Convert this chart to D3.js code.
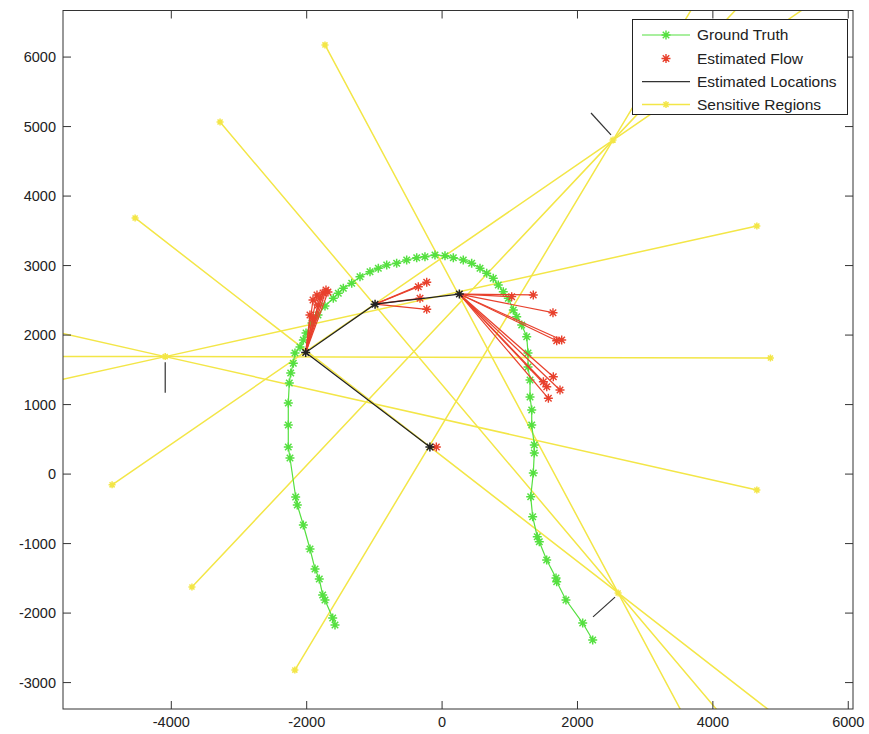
<!DOCTYPE html>
<html>
<head>
<meta charset="utf-8">
<script src="https://cdn.jsdelivr.net/npm/d3@7"></script>
<style>
  body { margin: 0; background: #fff; }
  svg { display: block; font-family: "Liberation Sans", Arial, Helvetica, sans-serif; }
</style>
</head>
<body>
<div id="chart"></div>
<script>
// axis ticks
var xTicks = [-4000, -2000, 0, 2000, 4000, 6000];
var yTicks = [-3000, -2000, -1000, 0, 1000, 2000, 3000, 4000, 5000, 6000];

// ground truth path (x, y)
var groundTruth = [
  [-1582,-2171],[-1616,-2071],[-1730,-1812],[-1764,-1740],[-1814,-1510],[-1877,-1366],
  [-1951,-1078],[-2050,-733],[-2139,-445],[-2163,-330],[-2247,231],[-2272,390],
  [-2272,706],[-2272,1023],[-2257,1310],[-2236,1454],[-2198,1594],[-2173,1742],
  [-2099,1828],[-2050,1929],[-2010,2030],[-1922,2174],[-1833,2289],[-1730,2418],
  [-1607,2529],[-1533,2601],[-1459,2673],[-1335,2745],[-1213,2840],[-1065,2912],
  [-942,2961],[-818,3008],[-671,3033],[-523,3080],[-375,3113],[-253,3128],
  [-105,3152],[43,3142],[166,3113],[313,3080],[437,3033],[560,2961],
  [659,2889],[756,2817],[830,2720],[904,2624],[978,2529],[1052,2361],
  [1102,2264],[1176,2145],[1250,1977],[1269,1742],[1269,1541],[1299,1354],
  [1299,1109],[1324,922],[1324,706],[1362,418],[1362,303],[1347,16],
  [1309,-325],[1338,-613],[1406,-901],[1436,-973],[1545,-1236],[1683,-1495],
  [1693,-1548],[1830,-1812],[2077,-2143],[2225,-2387]
];

// estimated locations (black path)
var estLocations = [[-180,390],[-2015,1750],[-990,2445],[255,2590]];

// estimated flow end points, one list per location
var flowLoc1 = [[-85,390]];
var flowLoc2 = [[-1715,2649],[-1759,2606],[-1686,2620],[-1848,2577],[-1804,2534],
                [-1907,2505],[-1952,2289],[-1907,2246],[-1833,2433]];
var flowLoc3 = [[-227,2759],[-351,2696],[-326,2529],[-227,2371]];
var flowLoc4 = [[1347,2577],[1028,2553],[1638,2322],[1767,1929],[1693,1919],
                [1643,1401],[1742,1210],[1496,1329],[1546,1257],[1570,1090]];
var flowLists = [flowLoc1, flowLoc2, flowLoc3, flowLoc4];

// sensitive regions: centre and the far marker of each sight line
var regionCenters = [[-4090,1690],[2525,4805],[2600,-1710]];
var regionMarkers = [
  [[4850,1670],[4650,-230],[4650,3570]],
  [[-4875,-155],[-3695,-1625],[-2175,-2820]],
  [[-1730,6175],[-3280,5065],[-4535,3685]]
];
// short black bearing segments near each region
var regionBearings = [
  [[-4090,1610],[-4090,1170]],
  [[2200,5195],[2495,4880]],
  [[2230,-2055],[2555,-1770]]
];

var legendLabels = ["Ground Truth", "Estimated Flow", "Estimated Locations", "Sensitive Regions"];

var W = 869, H = 734;
var pLeft = 63, pRight = 853, pTop = 10.5, pBottom = 709;

var green = "#55e040", red = "#e8402c", yellow = "#f3e647", black = "#222";

var svg = d3.select("#chart").append("svg").attr("width", W).attr("height", H);

var x = d3.scaleLinear().domain([-5600, 6070]).range([pLeft, pRight]);
var y = d3.scaleLinear().domain([-3380, 6670]).range([pBottom, pTop]);

svg.append("clipPath").attr("id", "plotclip")
  .append("rect").attr("x", pLeft).attr("y", pTop).attr("width", pRight - pLeft).attr("height", pBottom - pTop);

var plot = svg.append("g").attr("clip-path", "url(#plotclip)");

// asterisk marker
function star(r) {
  var a = r * 0.72;
  return "M" + (-r) + ",0L" + r + ",0M0," + (-r) + "L0," + r +
         "M" + (-a) + "," + (-a) + "L" + a + "," + a + "M" + (-a) + "," + a + "L" + a + "," + (-a);
}
function markers(g, pts, color, r, sw) {
  g.selectAll(null).data(pts).enter().append("path")
    .attr("d", star(r))
    .attr("transform", function(d) { return "translate(" + x(d[0]) + "," + y(d[1]) + ")"; })
    .attr("stroke", color).attr("stroke-width", sw).attr("fill", "none");
}
var line = d3.line().x(function(d) { return x(d[0]); }).y(function(d) { return y(d[1]); });

// sensitive region lines
regionCenters.forEach(function(c, i) {
  regionMarkers[i].forEach(function(m) {
    var far = [c[0] + (c[0] - m[0]) * 1.5, c[1] + (c[1] - m[1]) * 1.5];
    plot.append("path").attr("d", line([m, c, far]))
      .attr("stroke", yellow).attr("stroke-width", 1.5).attr("fill", "none");
  });
  markers(plot, regionMarkers[i], yellow, 3.5, 1.5);
  markers(plot, [c], yellow, 3.5, 1.5);
  plot.append("path").attr("d", line(regionBearings[i]))
    .attr("stroke", "#333").attr("stroke-width", 1.2).attr("fill", "none");
});

// ground truth
plot.append("path").attr("d", line(groundTruth))
  .attr("stroke", green).attr("stroke-width", 1.2).attr("fill", "none");
markers(plot, groundTruth, green, 4.5, 1.5);

// estimated flow
flowLists.forEach(function(list, i) {
  list.forEach(function(p) {
    plot.append("path").attr("d", line([estLocations[i], p]))
      .attr("stroke", red).attr("stroke-width", 1.2).attr("fill", "none");
  });
  markers(plot, list, red, 4.5, 1.4);
});

// estimated locations
plot.append("path").attr("d", line(estLocations))
  .attr("stroke", black).attr("stroke-width", 1.2).attr("fill", "none");
markers(plot, estLocations, black, 4.5, 1.5);

// axes box and ticks (inward, on all four sides)
var axisCol = "#333", tickLen = 8;
svg.append("rect").attr("x", pLeft).attr("y", pTop).attr("width", pRight - pLeft).attr("height", pBottom - pTop)
  .attr("fill", "none").attr("stroke", axisCol).attr("stroke-width", 1);

xTicks.forEach(function(t) {
  svg.append("line").attr("x1", x(t)).attr("x2", x(t)).attr("y1", pBottom).attr("y2", pBottom - tickLen).attr("stroke", axisCol);
  svg.append("line").attr("x1", x(t)).attr("x2", x(t)).attr("y1", pTop).attr("y2", pTop + tickLen).attr("stroke", axisCol);
  svg.append("text").attr("x", x(t)).attr("y", 722).attr("text-anchor", "middle").attr("dy", ".35em")
    .attr("font-size", "14.5px").attr("fill", "#222").text(t);
});
yTicks.forEach(function(t) {
  svg.append("line").attr("x1", pLeft).attr("x2", pLeft + tickLen).attr("y1", y(t)).attr("y2", y(t)).attr("stroke", axisCol);
  svg.append("line").attr("x1", pRight).attr("x2", pRight - tickLen).attr("y1", y(t)).attr("y2", y(t)).attr("stroke", axisCol);
  svg.append("text").attr("x", 56).attr("y", y(t)).attr("text-anchor", "end").attr("dy", ".35em")
    .attr("font-size", "14.5px").attr("fill", "#222").text(t);
});

// legend
var lg = svg.append("g");
lg.append("rect").attr("x", 632.5).attr("y", 19.5).attr("width", 215).attr("height", 95)
  .attr("fill", "#fff").attr("stroke", "#222");
var rowY = [35, 58.5, 81.7, 104.5];
legendLabels.forEach(function(lab, i) {
  var yy = rowY[i];
  if (i !== 1) {
    var col = [green, red, "#333", yellow][i];
    lg.append("line").attr("x1", 642).attr("x2", 690).attr("y1", yy).attr("y2", yy)
      .attr("stroke", col).attr("stroke-width", i === 3 ? 1.5 : 1.2);
  }
  if (i !== 2) {
    var mc = [green, red, black, yellow][i];
    lg.append("path").attr("d", star(i === 3 ? 3.5 : 4.5)).attr("transform", "translate(666," + yy + ")")
      .attr("stroke", mc).attr("stroke-width", 1.4).attr("fill", "none");
  }
  lg.append("text").attr("x", 697).attr("y", yy).attr("dy", ".35em")
    .attr("font-size", "15.5px").attr("fill", "#222").text(lab);
});
</script>
</body>
</html>
